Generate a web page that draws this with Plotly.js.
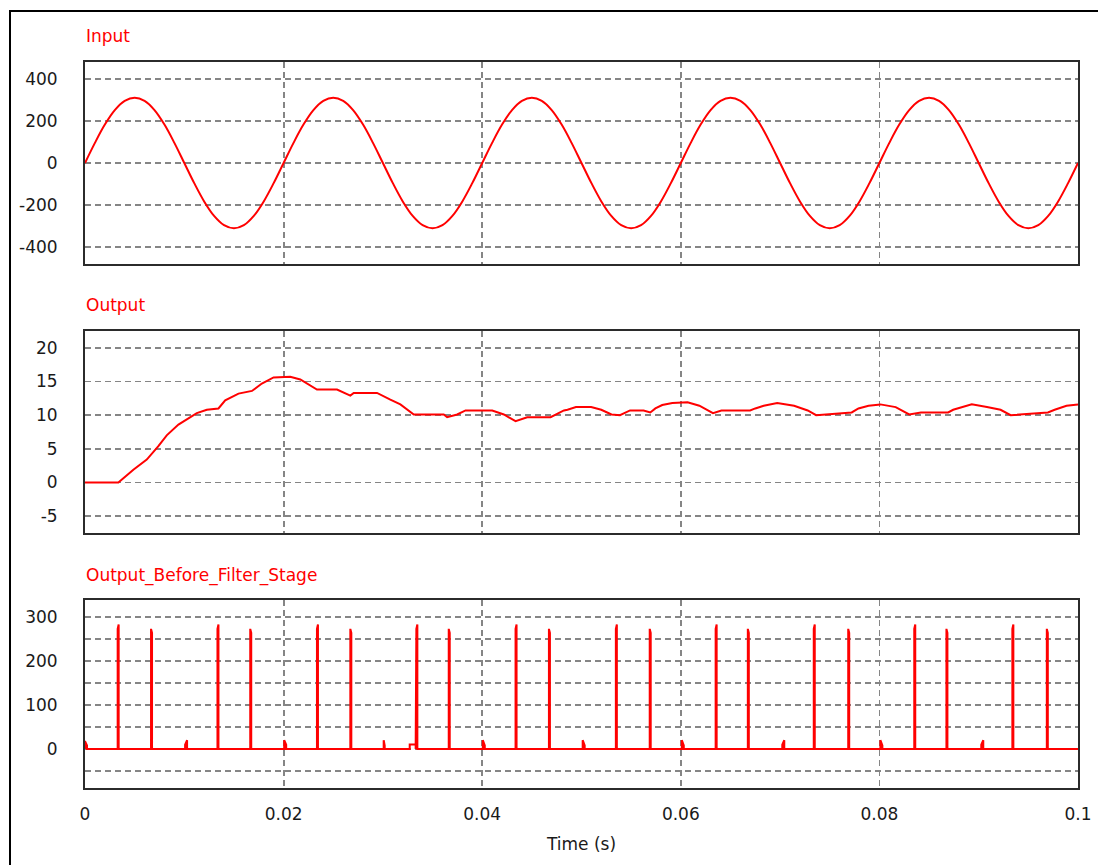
<!DOCTYPE html>
<html>
<head>
<meta charset="utf-8">
<script src="https://cdn.plot.ly/plotly-3.0.1.min.js"></script>
<style>
  html, body { margin: 0; padding: 0; background: #ffffff; }
  #chart { width: 1098px; height: 865px; }
</style>
</head>
<body>
<div id="chart"></div>
<script>
// ---------------- DATA ----------------
const inputT = [];
for (let i = 0; i <= 100; i++) inputT.push(i / 1000);
const inputV = [
  0, 96, 183, 252, 296, 311, 296, 252, 183, 96,
  0, -96, -183, -252, -296, -311, -296, -252, -183, -96,
  0, 96, 183, 252, 296, 311, 296, 252, 183, 96,
  0, -96, -183, -252, -296, -311, -296, -252, -183, -96,
  0, 96, 183, 252, 296, 311, 296, 252, 183, 96,
  0, -96, -183, -252, -296, -311, -296, -252, -183, -96,
  0, 96, 183, 252, 296, 311, 296, 252, 183, 96,
  0, -96, -183, -252, -296, -311, -296, -252, -183, -96,
  0, 96, 183, 252, 296, 311, 296, 252, 183, 96,
  0, -96, -183, -252, -296, -311, -296, -252, -183, -96,
  0
];

// Output (after filter)
const outputT = [
  0, 0.00336, 0.00487, 0.00622, 0.00739, 0.00823, 0.00941, 0.01059, 0.01126, 0.01227,
  0.01344, 0.01412, 0.01546, 0.01681, 0.01781, 0.01899, 0.02067, 0.02168, 0.02336, 0.02538,
  0.02672, 0.02706, 0.02941, 0.03075, 0.03176, 0.03311, 0.03613, 0.03647, 0.03748, 0.03832,
  0.04101, 0.04218, 0.04336, 0.04453, 0.04689, 0.04823, 0.04859, 0.04944, 0.05097, 0.05199,
  0.05302, 0.05387, 0.05489, 0.05625, 0.05693, 0.05744, 0.05813, 0.05915, 0.06068, 0.06187,
  0.06324, 0.06409, 0.06698, 0.06750, 0.06835, 0.06971, 0.07141, 0.07278, 0.07363, 0.07721,
  0.07789, 0.07891, 0.08010, 0.08164, 0.08300, 0.08419, 0.08692, 0.08743, 0.08930, 0.09083,
  0.09220, 0.09322, 0.09697, 0.09765, 0.09884, 0.1
];
const outputV = [
  0, 0, 1.9, 3.4, 5.4, 7.0, 8.6, 9.75, 10.3, 10.8,
  11.0, 12.2, 13.2, 13.6, 14.7, 15.6, 15.7, 15.3, 13.8, 13.8,
  12.9, 13.3, 13.3, 12.3, 11.6, 10.1, 10.1, 9.7, 10.1, 10.7,
  10.7, 10.1, 9.1, 9.7, 9.7, 10.7, 10.8, 11.2, 11.2, 10.8,
  10.1, 10.0, 10.7, 10.7, 10.4, 11.0, 11.5, 11.8, 11.9, 11.4,
  10.3, 10.7, 10.7, 11.0, 11.4, 11.8, 11.4, 10.7, 10.0, 10.4,
  11.0, 11.4, 11.6, 11.2, 10.1, 10.4, 10.4, 10.8, 11.6, 11.2,
  10.8, 10.0, 10.4, 10.8, 11.4, 11.6
];

// Output before filter stage: pulses (start time, duration, value at start, value at end)
const pulseT = [
  0, 0.00329, 0.00665, 0.01008, 0.01334, 0.01664, 0.02006, 0.02336, 0.02672, 0.03008,
  0.0327, 0.03337, 0.03663, 0.04006, 0.04336, 0.04672, 0.05012, 0.05346, 0.05687, 0.06010,
  0.06351, 0.06675, 0.07022, 0.07339, 0.07686, 0.08010, 0.08351, 0.08675, 0.09026, 0.09339,
  0.09686
];
const pulseDur = [
  0.0002, 0.0001, 0.0001, 0.0002, 0.0001, 0.0001, 0.0002, 0.0001, 0.0001, 0.0001,
  0.0006, 0.0001, 0.0001, 0.0002, 0.0001, 0.0001, 0.0002, 0.0001, 0.0001, 0.0002,
  0.0001, 0.0001, 0.0002, 0.0001, 0.0001, 0.0002, 0.0001, 0.0001, 0.0002, 0.0001,
  0.0001
];
const pulseA = [
  18, 273, 273, 10, 273, 273, 20, 273, 273, 20,
  10, 273, 273, 20, 273, 273, 20, 273, 273, 20,
  273, 273, 10, 273, 273, 20, 273, 273, 10, 273,
  273
];
const pulseB = [
  8, 283, 264, 20, 283, 264, 10, 283, 264, 8,
  10, 283, 264, 8, 283, 264, 8, 283, 264, 8,
  283, 264, 20, 283, 264, 8, 283, 264, 20, 283,
  264
];

const xTicks = [0, 0.02, 0.04, 0.06, 0.08, 0.1];
const xTickText = ['0', '0.02', '0.04', '0.06', '0.08', '0.1'];
const y1Ticks = [-400, -200, 0, 200, 400];
const y1TickText = ['-400', '-200', '0', '200', '400'];
const y2Ticks = [-5, 0, 5, 10, 15, 20];
const y2TickText = ['-5', '0', '5', '10', '15', '20'];
const y3Ticks = [-50, 0, 50, 100, 150, 200, 250, 300];
const y3TickText = ['', '0', '', '100', '', '200', '', '300'];
const panelTitles = ['Input', 'Output', 'Output_Before_Filter_Stage'];
const xTitle = 'Time (s)';

// ---------------- BUILD ----------------
const bx = [], by = [];
for (let i = 0; i < pulseT.length; i++) {
  const t = pulseT[i], d = pulseDur[i];
  bx.push(t, t, t + d, t + d);
  by.push(0, pulseA[i], pulseB[i], 0);
}
bx.push(0.1); by.push(0);

const W = 1098, H = 865;
const px = v => v / W;
const py = v => 1 - v / H;

const RED = '#ff0000';
const FONT = 'DejaVu Sans, Verdana, sans-serif';

const traces = [
  { x: inputT, y: inputV, xaxis: 'x', yaxis: 'y', type: 'scatter', mode: 'lines',
    line: { color: RED, width: 2, shape: 'spline' }, hoverinfo: 'skip' },
  { x: outputT, y: outputV, xaxis: 'x2', yaxis: 'y2', type: 'scatter', mode: 'lines',
    line: { color: RED, width: 2 }, hoverinfo: 'skip' },
  { x: bx, y: by, xaxis: 'x3', yaxis: 'y3', type: 'scatter', mode: 'lines',
    line: { color: RED, width: 2 }, hoverinfo: 'skip' }
];

const gridStyle = {
  showgrid: true, gridcolor: '#858585', gridwidth: 1.8, griddash: '6px,4px',
  zeroline: false, showline: true, mirror: true, linecolor: '#2b2b2b', linewidth: 2,
  ticks: '', fixedrange: true,
  tickfont: { family: FONT, size: 17, color: '#1a1a1a' }
};

const xDomain = [px(85), px(1078)];
function xa(anchor, showLabels) {
  return Object.assign({}, gridStyle, {
    domain: xDomain, anchor: anchor, range: [0, 0.1],
    tickmode: 'array', tickvals: xTicks, ticktext: xTickText,
    showticklabels: showLabels, ticklabelstandoff: 10
  });
}
function ya(anchor, dom, range, vals, text) {
  return Object.assign({}, gridStyle, {
    domain: dom, anchor: anchor, range: range,
    tickmode: 'array', tickvals: vals, ticktext: text, ticklabelstandoff: 22
  });
}

const layout = {
  width: W, height: H,
  margin: { l: 0, r: 0, t: 0, b: 0, pad: 0 },
  paper_bgcolor: '#ffffff', plot_bgcolor: '#ffffff',
  showlegend: false,
  font: { family: FONT, size: 17, color: '#1a1a1a' },
  xaxis: xa('y', false),
  xaxis2: xa('y2', false),
  xaxis3: Object.assign(xa('y3', true), {
    title: { text: xTitle, font: { family: FONT, size: 17, color: '#1a1a1a' }, standoff: 15 }
  }),
  yaxis: ya('x', [py(264), py(62)], [-481, 481], y1Ticks, y1TickText),
  yaxis2: ya('x2', [py(533), py(331)], [-7.5, 22.5], y2Ticks, y2TickText),
  yaxis3: ya('x3', [py(788), py(600)], [-88.6, 338.6], y3Ticks, y3TickText),
  annotations: [
    { text: panelTitles[0], xref: 'paper', yref: 'paper', x: px(84), y: py(36), xanchor: 'left', yanchor: 'middle', showarrow: false, font: { family: FONT, size: 17, color: RED } },
    { text: panelTitles[1], xref: 'paper', yref: 'paper', x: px(84), y: py(305), xanchor: 'left', yanchor: 'middle', showarrow: false, font: { family: FONT, size: 17, color: RED } },
    { text: panelTitles[2], xref: 'paper', yref: 'paper', x: px(84), y: py(575), xanchor: 'left', yanchor: 'middle', showarrow: false, font: { family: FONT, size: 17, color: RED } }
  ],
  shapes: [
    { type: 'line', xref: 'paper', yref: 'paper', x0: px(10), x1: 1, y0: py(11), y1: py(11), line: { color: '#000000', width: 2 } },
    { type: 'line', xref: 'paper', yref: 'paper', x0: px(10), x1: px(10), y0: 0, y1: py(10), line: { color: '#000000', width: 2 } }
  ]
};

Plotly.newPlot('chart', traces, layout, { displayModeBar: false, staticPlot: true });
</script>
</body>
</html>
